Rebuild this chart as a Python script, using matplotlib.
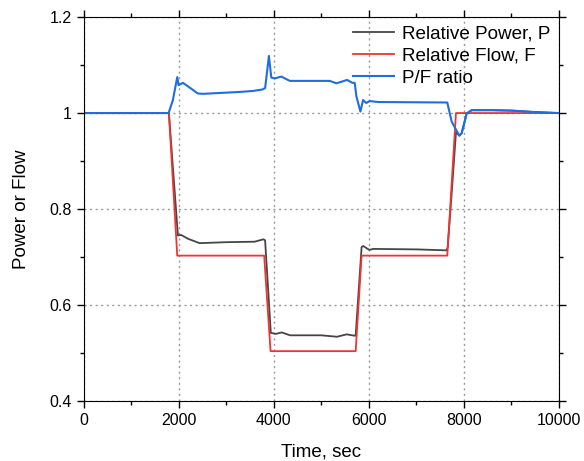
import matplotlib
matplotlib.use("Agg")
import matplotlib.pyplot as plt
from matplotlib.ticker import MultipleLocator, FormatStrFormatter
import numpy as np

plt.rcParams['font.family'] = ['Liberation Sans', 'DejaVu Sans']

# valori
t_flow = [0, 1796, 1972, 3800, 3935, 5725, 5850, 7652, 7835, 10000]
flow = [1.0, 1.0, 0.703, 0.703, 0.504, 0.504, 0.703, 0.703, 1.0, 1.0]

t_power = [0, 1796, 1986, 2056, 2200, 2442, 3000, 3600, 3785, 3820, 3940, 4050, 4170,
           4345, 5000, 5335, 5535, 5710, 5725, 5850, 5885, 6010, 6100, 7000, 7640,
           7660, 7750, 7835, 7905, 7955, 8060, 8165, 8600, 9030, 9500, 10000]
power = [1.0, 1.0, 0.745, 0.746, 0.738, 0.729, 0.731, 0.732, 0.737, 0.735, 0.542, 0.540, 0.543,
         0.537, 0.537, 0.534, 0.539, 0.536, 0.537, 0.721, 0.723, 0.715, 0.717, 0.716, 0.714,
         0.72, 0.84, 0.96, 0.953, 0.958, 0.999, 1.006, 1.006, 1.005, 1.002, 1.0]

t_ratio = [0, 1790, 1880, 1972, 2000, 2090, 2250, 2400, 2500, 3284, 3560, 3760, 3820,
           3860, 3900, 3950, 4020, 4160, 4340, 5180, 5320, 5545, 5655, 5705, 5740,
           5825, 5880, 5950, 6020, 6200, 7652, 7745, 7905, 7955, 8060, 8165, 8600,
           9030, 9500, 10000]
ratio = [1.0, 1.0, 1.027, 1.075, 1.058, 1.063, 1.052, 1.041, 1.040, 1.044, 1.046, 1.049, 1.052,
         1.085, 1.119, 1.074, 1.072, 1.076, 1.067, 1.067, 1.062, 1.069, 1.063, 1.063, 1.035,
         1.003, 1.027, 1.021, 1.025, 1.023, 1.022, 0.982, 0.953, 0.958, 0.999, 1.006, 1.006,
         1.005, 1.002, 1.0]

fig = plt.figure(figsize=(5.84, 4.61), dpi=100)
ax = fig.add_axes([0.143, 0.130, 0.814, 0.833])

ax.plot(t_power, power, color='#454545', lw=1.3, label='Relative Power, P')
ax.plot(t_flow, flow, color='#ee3333', lw=1.3, label='Relative Flow, F')
ax.plot(t_ratio, ratio, color='#1f6ee0', lw=1.5, label='P/F ratio')

ax.set_xlim(0, 10000)
ax.set_ylim(0.4, 1.2)
ax.xaxis.set_major_locator(MultipleLocator(2000))
ax.xaxis.set_minor_locator(MultipleLocator(1000))
ax.yaxis.set_major_locator(MultipleLocator(0.2))
ax.yaxis.set_minor_locator(MultipleLocator(0.1))
ax.yaxis.set_major_formatter(FormatStrFormatter('%g'))

ax.tick_params(which='both', direction='out', top=True, right=True, labelsize=11.5)
ax.tick_params(which='major', length=5, width=1)
ax.tick_params(which='minor', length=3, width=1)
ax.grid(True, which='major', linestyle=(0, (1.5, 2.5)), color='#999999', lw=1)

ax.set_xlabel('Time, sec', fontsize=13.5, labelpad=11)
ax.set_ylabel('Power or Flow', fontsize=13.5, labelpad=14)

ax.legend(loc='upper right', frameon=False, fontsize=13.6, handlelength=2.2,
          handletextpad=0.4, labelspacing=0.25, borderaxespad=0.05)

fig.savefig('out.png', dpi=100)
